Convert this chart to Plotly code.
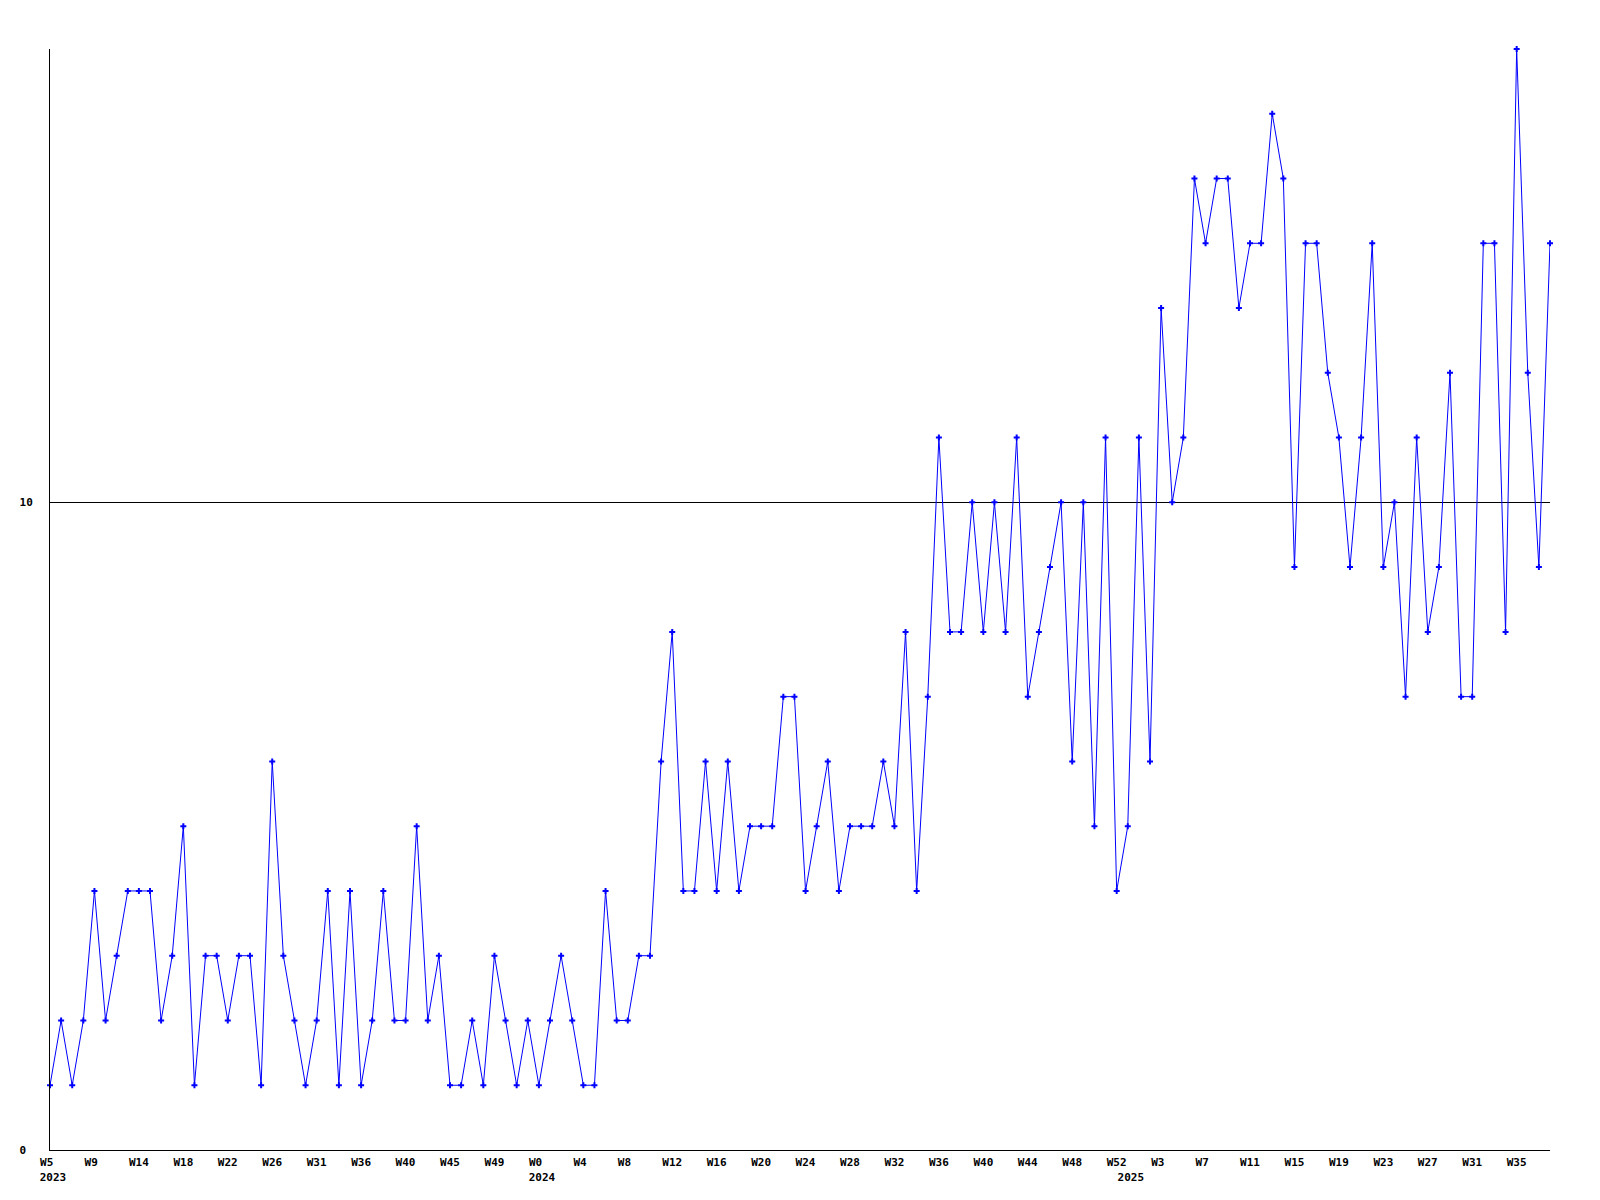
import plotly.graph_objects as go

values = [1, 2, 1, 2, 4, 2, 3, 4, 4, 4, 2, 3, 5, 1, 3, 3, 2, 3, 3, 1,
          6, 3, 2, 1, 2, 4, 1, 4, 1, 2, 4, 2, 2, 5, 2, 3, 1, 1, 2, 1,
          3, 2, 1, 2, 1, 2, 3, 2, 1, 1, 4, 2, 2, 3, 3, 6, 8, 4, 4, 6,
          4, 6, 4, 5, 5, 5, 7, 7, 4, 5, 6, 4, 5, 5, 5, 6, 5, 8, 4, 7,
          11, 8, 8, 10, 8, 10, 8, 11, 7, 8, 9, 10, 6, 10, 5, 11, 4, 5, 11, 6,
          13, 10, 11, 15, 14, 15, 15, 13, 14, 14, 16, 15, 9, 14, 14, 12, 11, 9, 11, 14,
          9, 10, 7, 11, 8, 9, 12, 7, 7, 14, 14, 8, 17, 12, 9, 14]

week_labels = ["W5", "W9", "W14", "W18", "W22", "W26", "W31", "W36", "W40", "W45",
               "W49", "W0", "W4", "W8", "W12", "W16", "W20", "W24", "W28", "W32",
               "W36", "W40", "W44", "W48", "W52", "W3", "W7", "W11", "W15", "W19",
               "W23", "W27", "W31", "W35"]
week_tick_step = 4

year_labels = ["2023", "2024", "2025"]
year_tick_index = [0, 44, 97]

y_tick_vals = [0, 10]
y_tick_text = ["0", "10"]

x = list(range(len(values)))
week_ticks = [i * week_tick_step for i in range(len(week_labels))]
NB = "\u00a0"
week_text = [lab + NB * (3 - len(lab)) for lab in week_labels]
ytext = [t + NB * (2 - len(t)) for t in y_tick_text]

font_fam = "DejaVu Sans Mono"
tfont = dict(family=font_fam, size=11, color="black", weight="bold")

fig = go.Figure()
fig.add_trace(go.Scatter(
    x=x, y=values, mode="lines+markers",
    line=dict(color="#0000ff", width=1),
    marker=dict(symbol="cross", size=5, color="#0000ff", line=dict(width=0)),
    cliponaxis=False, showlegend=False,
))
# invisible trace for year axis
fig.add_trace(go.Scatter(x=[0, len(values) - 1], y=[0, 0], xaxis="x2",
                         mode="markers", marker=dict(opacity=0),
                         showlegend=False, hoverinfo="skip"))

fig.update_layout(
    width=1592, height=1192,
    margin=dict(l=42, r=50, t=41, b=50),
    paper_bgcolor="white", plot_bgcolor="white",
    xaxis=dict(range=[0, len(values) - 1], tickmode="array", tickvals=week_ticks,
               ticktext=week_text, tickfont=tfont, showgrid=False, zeroline=False,
               showline=True, linecolor="black", linewidth=1, ticks="",
               ticklabelstandoff=2, tickangle=0, automargin=False),
    xaxis2=dict(range=[0, len(values) - 1], overlaying="x", side="bottom",
                anchor="y", tickmode="array", tickvals=year_tick_index,
                ticktext=year_labels, tickfont=tfont, showgrid=False,
                zeroline=False, showline=False, ticks="",
                ticklabelstandoff=19, ticklabelshift=3, tickangle=0,
                automargin=False),
    yaxis=dict(range=[0, 17], tickmode="array", tickvals=y_tick_vals,
               ticktext=ytext, tickfont=tfont, showgrid=True, gridcolor="black",
               gridwidth=1, zeroline=False, showline=True, linecolor="black",
               linewidth=1, ticks="", ticklabelstandoff=14, automargin=False),
)

fig.write_html("out.html")
